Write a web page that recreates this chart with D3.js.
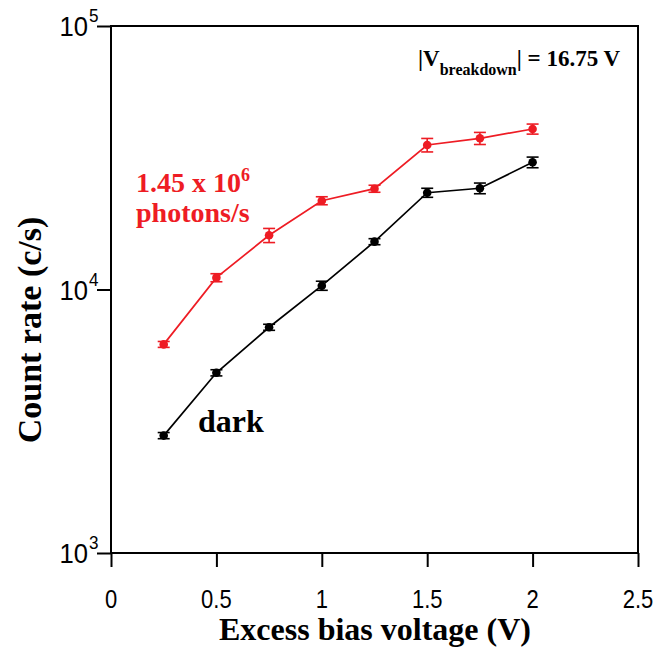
<!DOCTYPE html>
<html>
<head>
<meta charset="utf-8">
<script src="https://cdn.jsdelivr.net/npm/d3@7"></script>
<style>
  html, body { margin: 0; padding: 0; background: #fff; }
  svg { display: block; }
</style>
</head>
<body>
<svg id="chart" width="660" height="649"></svg>
<script>
// ---- Data ----
const voltages   = [0.25, 0.5, 0.75, 1.0, 1.25, 1.5, 1.75, 2.0];
const darkRate   = [2790, 4830, 7190, 10340, 15190, 23300, 24220, 30390];
const darkErr    = [75, 130, 190, 410, 400, 920, 1130, 1415];
const lightRate  = [6190, 11090, 16060, 21730, 24130, 35350, 37480, 40660];
const lightErr   = [160, 390, 990, 760, 740, 2080, 1975, 1785];
const xTickVals  = [0, 0.5, 1, 1.5, 2, 2.5];
const xTickLabels = ["0", "0.5", "1", "1.5", "2", "2.5"];
const yTickVals  = [1e3, 1e4, 1e5];
const yTickExps  = ["3", "4", "5"];

// ---- Layout ----
const L = 111, R = 638, T = 26, B = 553;
const RED = "#ee1c24";
const sans = "Liberation Sans, Arial, sans-serif";
const serif = "Liberation Serif, Times New Roman, serif";
const svg = d3.select("#chart");

const x = d3.scaleLinear().domain([0, 2.5]).range([L, R]);
const y = d3.scaleLog().domain([1e3, 1e5]).range([B, T]);

function label(parent, px, py, anchor, sx) {
  return parent.append("text")
    .attr("transform", `translate(${px},${py}) scale(${sx || 1},1)`)
    .attr("text-anchor", anchor);
}

// Frame
svg.append("rect").attr("x", L).attr("y", T).attr("width", R - L).attr("height", B - T)
  .attr("fill", "none").attr("stroke", "#000").attr("stroke-width", 2);

// X axis
const xAxis = svg.append("g").attr("transform", `translate(0,${B})`)
  .call(d3.axisBottom(x).tickValues(xTickVals).tickSize(14).tickSizeOuter(0).tickFormat(() => ""));
xAxis.select(".domain").remove();
xAxis.selectAll(".tick line").attr("stroke", "#000").attr("stroke-width", 2);
xTickVals.forEach((v, i) => {
  label(svg, x(v), 608, "middle", 0.88)
    .attr("font-family", sans).attr("font-size", 25)
    .attr("fill", "#000").text(xTickLabels[i]);
});

// Y axis
const yAxis = svg.append("g").attr("transform", `translate(${L},0)`)
  .call(d3.axisLeft(y).tickValues(yTickVals).tickSize(14).tickSizeOuter(0).tickFormat(() => ""));
yAxis.select(".domain").remove();
yAxis.selectAll(".tick line").attr("stroke", "#000").attr("stroke-width", 2);
yTickVals.forEach((v, i) => {
  label(svg, 88, y(v) + 10, "end", 0.95)
    .attr("font-family", sans).attr("font-size", 27).attr("fill", "#000").text("10");
  label(svg, 89, y(v) - 4, "start", 0.95)
    .attr("font-family", sans).attr("font-size", 18).attr("fill", "#000")
    .text(yTickExps[i]);
});

// Axis titles
label(svg, (L + R) / 2 + 0.5, 640, "middle")
  .attr("font-family", serif).attr("font-weight", "bold")
  .attr("font-size", 32).attr("fill", "#000").text("Excess bias voltage (V)");
svg.append("text")
  .attr("transform", `translate(41,330) rotate(-90)`)
  .attr("text-anchor", "middle")
  .attr("font-family", serif).attr("font-weight", "bold")
  .attr("font-size", 34).attr("fill", "#000").text("Count rate (c/s)");

// Series
function drawSeries(rates, errs, color) {
  const pts = voltages.map((v, i) => ({ v, r: rates[i], e: errs[i] }));
  svg.append("path").datum(pts)
    .attr("fill", "none").attr("stroke", color).attr("stroke-width", 1.7)
    .attr("d", d3.line().x(d => x(d.v)).y(d => y(d.r)));
  const g = svg.append("g").attr("stroke", color).attr("stroke-width", 1.6);
  pts.forEach(d => {
    const cx = x(d.v), yt = y(d.r + d.e), yb = y(d.r - d.e);
    g.append("line").attr("x1", cx).attr("x2", cx).attr("y1", yt).attr("y2", yb);
    g.append("line").attr("x1", cx - 6).attr("x2", cx + 6).attr("y1", yt).attr("y2", yt);
    g.append("line").attr("x1", cx - 6).attr("x2", cx + 6).attr("y1", yb).attr("y2", yb);
  });
  svg.append("g").selectAll("circle").data(pts).join("circle")
    .attr("cx", d => x(d.v)).attr("cy", d => y(d.r)).attr("r", 4.3).attr("fill", color);
}
drawSeries(lightRate, lightErr, RED);
drawSeries(darkRate, darkErr, "#000");

// Annotations
const a1 = label(svg, 136, 192, "start").attr("font-family", serif).attr("font-weight", "bold")
  .attr("font-size", 28).attr("fill", RED);
a1.append("tspan").text("1.45 x 10");
a1.append("tspan").attr("font-size", 18).attr("dy", -11).text("6");
label(svg, 136, 222, "start").attr("font-family", serif).attr("font-weight", "bold")
  .attr("font-size", 28).attr("fill", RED).text("photons/s");

label(svg, 198, 432, "start").attr("font-family", serif).attr("font-weight", "bold")
  .attr("font-size", 32).attr("fill", "#000").text("dark");

const a2 = label(svg, 418, 66, "start").attr("font-family", serif).attr("font-weight", "bold")
  .attr("font-size", 23).attr("fill", "#000");
a2.append("tspan").text("|V");
a2.append("tspan").attr("font-size", 16).attr("dy", 9).text("breakdown");
a2.append("tspan").attr("dy", -9).text("| = 16.75 V");
</script>
</body>
</html>
